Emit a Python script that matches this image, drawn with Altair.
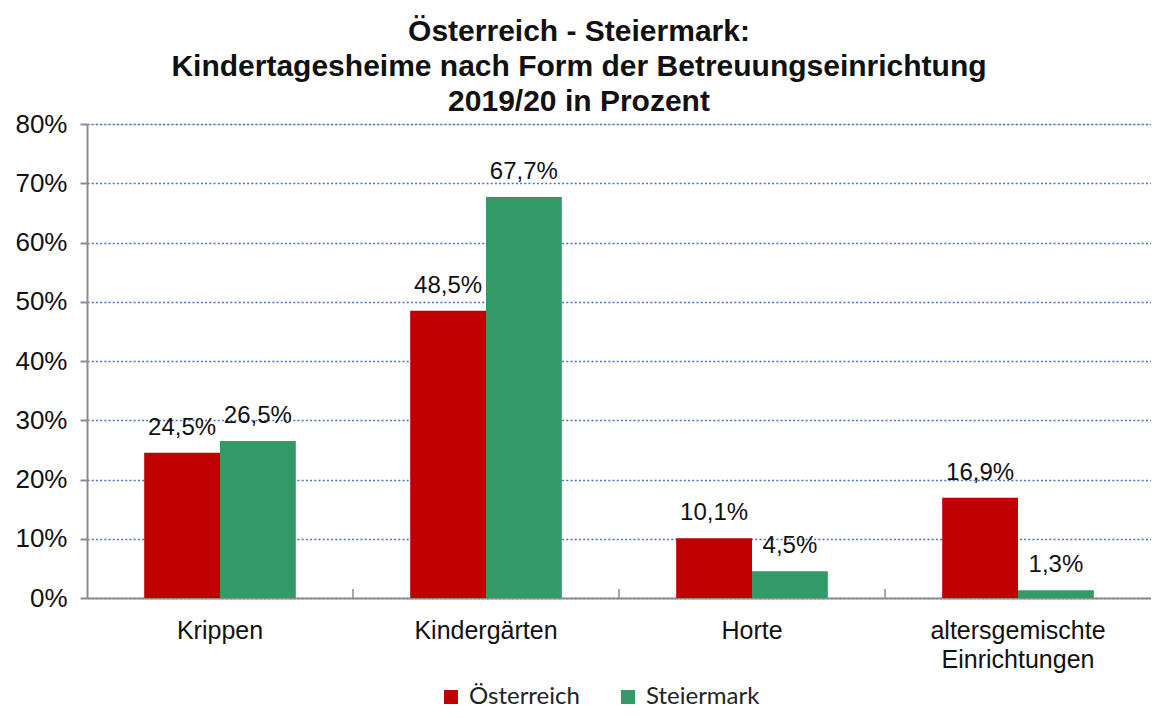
import altair as alt
import pandas as pd

categories = ["Krippen", "Kindergärten", "Horte", "altersgemischte Einrichtungen"]
series = ["Österreich", "Steiermark"]
oesterreich = [24.5, 48.5, 10.1, 16.9]
steiermark = [26.5, 67.7, 4.5, 1.3]
y_ticks = [0, 10, 20, 30, 40, 50, 60, 70, 80]
colors = ["#C00000", "#339966"]

rows = []
for c, a, b in zip(categories, oesterreich, steiermark):
    rows.append({"cat": c, "serie": series[0], "wert": a})
    rows.append({"cat": c, "serie": series[1], "wert": b})
df = pd.DataFrame(rows)
bounds = pd.DataFrame({"cat": categories[1:]})

FONT = "Liberation Sans"
W, H = 1064, 474
PI = 0.43
STEP = W / len(categories)

xscale = alt.Scale(domain=categories, paddingInner=PI, paddingOuter=PI / 2)
yscale = alt.Scale(domain=[0, 80], nice=False)

x = alt.X("cat:N", scale=xscale, sort=categories, title=None,
          axis=alt.Axis(labelAngle=0, labelFont=FONT, labelFontSize=25, labelColor="#111",
                        labelExpr="split(datum.label, ' ')", labelPadding=20, labelLineHeight=29,
                        ticks=False, domainColor="#8c8c8c", domainWidth=2, grid=False))
y = alt.Y("wert:Q", scale=yscale, title=None,
          axis=alt.Axis(values=y_ticks, labelExpr="datum.value + '%'", labelFont=FONT,
                        labelFontSize=26, labelColor="#111", labelPadding=13,
                        tickSize=7, tickColor="#8c8c8c", tickWidth=2,
                        domainColor="#8c8c8c", domainWidth=2,
                        grid=True, gridColor="#4472C4", gridDash=[2, 2.2], gridWidth=1.6))

bars = alt.Chart(df).mark_bar(stroke=None).encode(
    x=x, y=y,
    xOffset=alt.XOffset("serie:N", sort=series),
    color=alt.Color("serie:N", sort=series, scale=alt.Scale(domain=series, range=colors),
                    legend=alt.Legend(title=None, orient="none", direction="horizontal",
                                      legendX=352, legendY=561, symbolType="square",
                                      symbolSize=196, symbolStrokeWidth=0, labelFont="Lato",
                                      labelFontSize=24, labelColor="#222", columnPadding=36,
                                      labelOffset=6)),
)

labels = alt.Chart(df).transform_calculate(
    txt="replace(format(datum.wert, '.1f'), '.', ',') + '%'"
).mark_text(font=FONT, fontSize=24, color="#111", baseline="middle", dy=-25).encode(
    x=alt.X("cat:N", scale=xscale, sort=categories),
    xOffset=alt.XOffset("serie:N", sort=series),
    y=alt.Y("wert:Q", scale=yscale),
    text="txt:N",
)

ticks = alt.Chart(bounds).mark_rule(color="#8c8c8c", strokeWidth=1.5,
                                    xOffset=-PI * STEP / 2).encode(
    x=alt.X("cat:N", scale=xscale, sort=categories, bandPosition=0),
    y=alt.value(H - 9), y2=alt.value(H),
)

chart = alt.layer(bars, labels, ticks).properties(
    width=W, height=H,
    autosize=alt.AutoSizeParams(type="none"),
    padding={"left": 79, "top": 116, "right": 0, "bottom": 110},
    title=alt.TitleParams(
        text=["Österreich - Steiermark:", "Kindertagesheime nach Form der Betreuungseinrichtung",
              "2019/20 in Prozent"],
        font=FONT, fontSize=30, fontWeight="bold", color="#111", anchor="middle",
        dx=-40, dy=7, lineHeight=35, offset=1),
).configure_view(stroke=None).configure(background="white")

chart.save("out.html", embed_options={"renderer": "svg", "actions": False})
